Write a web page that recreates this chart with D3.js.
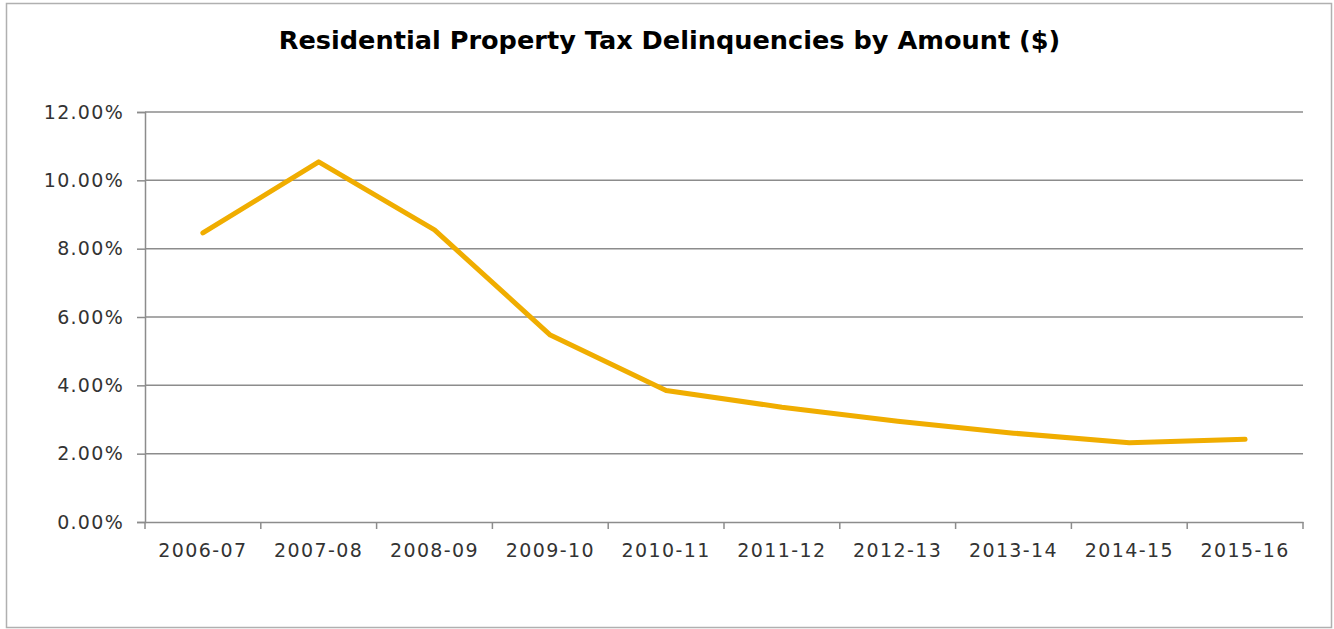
<!DOCTYPE html>
<html><head><meta charset="utf-8">
<script src="https://cdn.jsdelivr.net/npm/d3@7"></script>
<style>body{margin:0;background:#fff;}svg{display:block;}</style>
</head><body>
<script>
const categories = ["2006-07","2007-08","2008-09","2009-10","2010-11","2011-12","2012-13","2013-14","2014-15","2015-16"];
const values = [8.46, 10.54, 8.55, 5.47, 3.85, 3.36, 2.95, 2.60, 2.32, 2.42];
const yTicks = [0, 2, 4, 6, 8, 10, 12];
const title = "Residential Property Tax Delinquencies by Amount ($)";

(function(){
const W = 1334, H = 629;
const svg = d3.select("body").append("svg").attr("width", W).attr("height", H);
svg.append("rect").attr("x", 6.5).attr("y", 3.5).attr("width", 1325).attr("height", 624)
  .attr("fill", "#fff").attr("stroke", "#b0b0b0").attr("stroke-width", 1.5);

const pL = 145, pR = 1303, pT = 112, pB = 522;
const x = d3.scaleBand().domain(categories).range([pL, pR]);
const y = d3.scaleLinear().domain([0, 12]).range([pB, pT]);

const font = "'DejaVu Sans', Verdana, sans-serif";
svg.append("text").attr("x", 669.5).attr("y", 49).attr("text-anchor", "middle")
  .attr("font-family", font).attr("font-weight", "bold").attr("font-size", 25.6)
  .attr("fill", "#000").text(title);

svg.append("g").selectAll("line").data(yTicks.filter(d => d > 0)).join("line")
  .attr("x1", pL).attr("x2", pR).attr("y1", d => y(d)).attr("y2", d => y(d))
  .attr("stroke", "#8c8c8c").attr("stroke-width", 1.5);

const yAxis = svg.append("g").attr("transform", `translate(${pL},0)`)
  .call(d3.axisLeft(y).tickValues(yTicks).tickSize(8).tickPadding(13).tickFormat(d => d3.format(".2f")(d) + "%"));
yAxis.select(".domain").attr("stroke", "#8c8c8c").attr("stroke-width", 1.5);
yAxis.selectAll(".tick line").attr("stroke", "#8c8c8c").attr("stroke-width", 1.5);
yAxis.selectAll("text").attr("font-family", font).attr("font-size", 19).attr("letter-spacing", "1.3px").attr("fill", "#333");

const xAxis = svg.append("g").attr("transform", `translate(0,${pB})`)
  .call(d3.axisBottom(x).tickSize(0).tickPadding(22));
xAxis.select(".domain").attr("stroke", "#8c8c8c").attr("stroke-width", 1.5);
xAxis.selectAll("text").attr("font-family", font).attr("font-size", 19).attr("letter-spacing", "1.4px").attr("fill", "#333");
const edges = categories.map(c => x(c)).concat([x(categories[categories.length-1]) + x.bandwidth()]);
svg.append("g").selectAll("line").data(edges).join("line")
  .attr("x1", d => d).attr("x2", d => d).attr("y1", pB).attr("y2", pB + 7)
  .attr("stroke", "#8c8c8c").attr("stroke-width", 1.5);

const line = d3.line().x((d, i) => x(categories[i]) + x.bandwidth() / 2).y(d => y(d));
svg.append("path").datum(values).attr("d", line).attr("fill", "none")
  .attr("stroke", "#F0AD00").attr("stroke-width", 5).attr("stroke-linecap", "round").attr("stroke-linejoin", "round");
})();
</script>
</body></html>
